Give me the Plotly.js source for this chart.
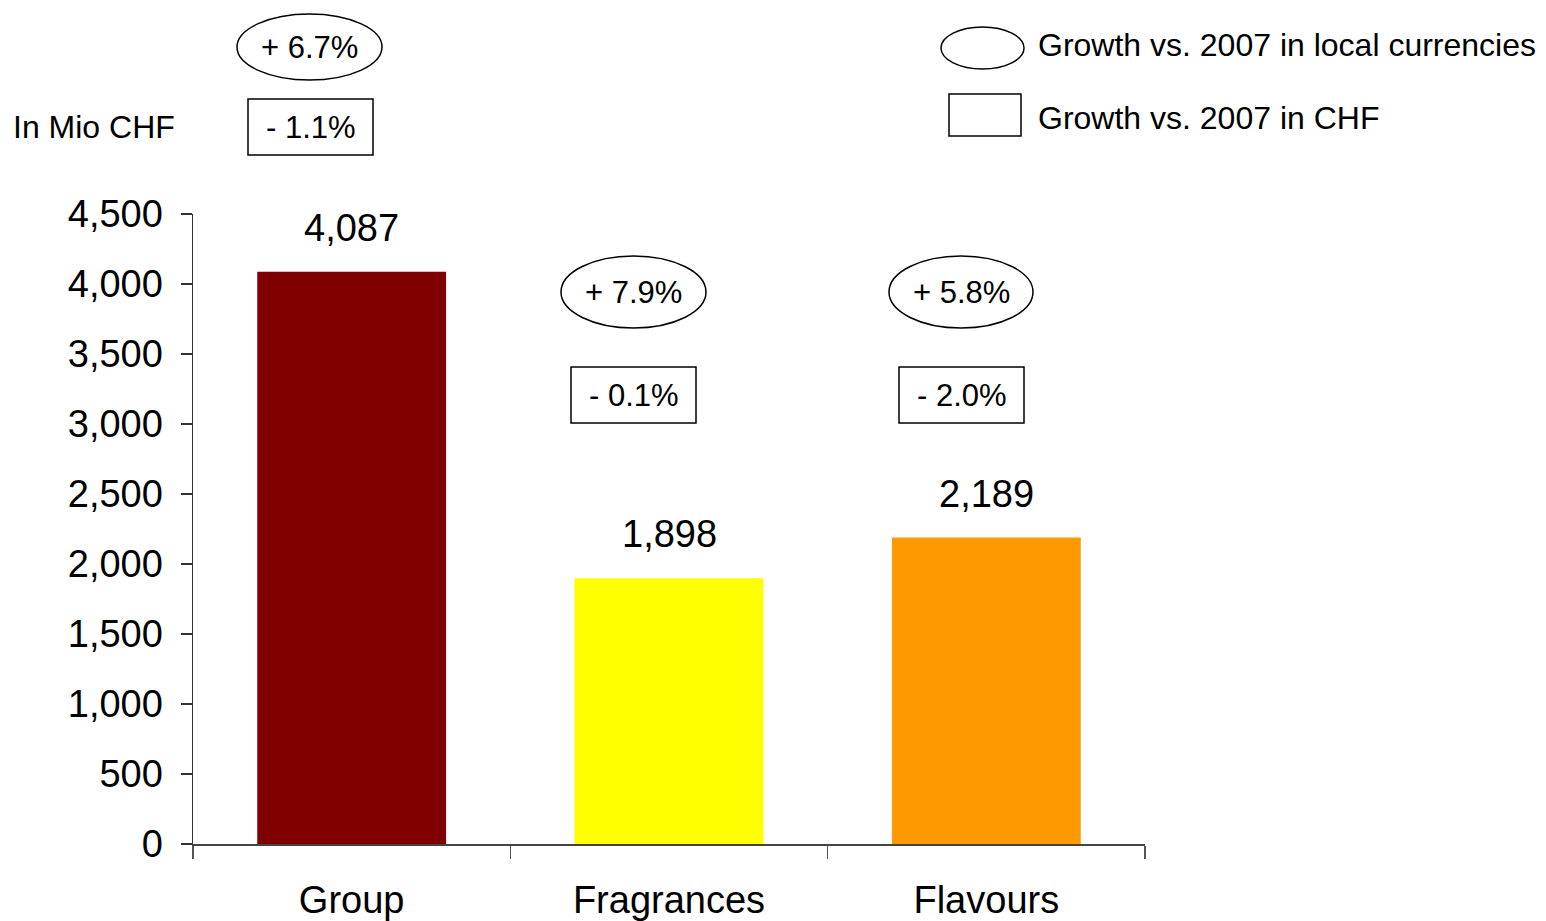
<!DOCTYPE html>
<html>
<head>
<meta charset="utf-8">
<script src="https://cdn.plot.ly/plotly-3.0.1.min.js"></script>
<style>
  html, body { margin: 0; padding: 0; background: #ffffff; }
  #chart { width: 1546px; height: 921px; }
</style>
</head>
<body>
<div id="chart"></div>
<script>
// ---- Data ----
const categories = ['Group', 'Fragrances', 'Flavours'];
const sales = [4087, 1898, 2189];
const salesLabels = ['4,087', '1,898', '2,189'];
const growthLocal = ['+ 6.7%', '+ 7.9%', '+ 5.8%'];
const growthCHF = ['- 1.1%', '- 0.1%', '- 2.0%'];
const barColors = ['#800000', '#FFFF00', '#FF9900'];
const unitLabel = 'In Mio CHF';
const legendLocal = 'Growth vs. 2007 in local currencies';
const legendCHF = 'Growth vs. 2007 in CHF';

// ---- Layout geometry (pixels) ----
const W = 1546, H = 921;
const L = 193, R = 1145, T = 214, B = 844;
const px = x => (x - L) / (R - L);
const py = y => (B - y) / (B - T);

const FONT = 'Liberation Sans, Arial, Helvetica, sans-serif';
const SMALL = 32;

// ellipse (local growth) and box (CHF growth) positions per category
const ellipseBoxes = [[237, 14, 382, 80], [561, 256, 706, 328], [889, 256, 1033, 328]];
const rectBoxes = [[248, 99, 373, 155], [571, 367, 696, 423], [899, 367, 1024, 423]];

const shapes = [];
const annotations = [];

function addBox(type, b, text) {
  shapes.push({
    type: type, xref: 'paper', yref: 'paper',
    x0: px(b[0]), x1: px(b[2]), y0: py(b[3]), y1: py(b[1]),
    line: {color: '#000000', width: 1.5}, fillcolor: 'rgba(0,0,0,0)'
  });
  if (text) {
    annotations.push({
      xref: 'paper', yref: 'paper',
      x: px((b[0] + b[2]) / 2), y: py((b[1] + b[3]) / 2),
      xanchor: 'center', yanchor: 'middle', showarrow: false,
      text: text, font: {family: FONT, size: 31, color: '#000000'}
    });
  }
}

for (let i = 0; i < categories.length; i++) {
  addBox('circle', ellipseBoxes[i], growthLocal[i]);
  addBox('rect', rectBoxes[i], growthCHF[i]);
  annotations.push({
    x: categories[i], y: sales[i], xref: 'x', yref: 'y',
    text: salesLabels[i], showarrow: false,
    xanchor: 'center', yanchor: 'bottom', yshift: 21,
    font: {family: FONT, size: 38, color: '#000000'}
  });
}

// legend
addBox('circle', [941, 27, 1024, 69], null);
addBox('rect', [949, 94, 1021, 136], null);
annotations.push({
  xref: 'paper', yref: 'paper', x: px(1036), y: py(45),
  xanchor: 'left', yanchor: 'middle', showarrow: false,
  text: legendLocal, font: {family: FONT, size: SMALL, color: '#000000'}
});
annotations.push({
  xref: 'paper', yref: 'paper', x: px(1036), y: py(118),
  xanchor: 'left', yanchor: 'middle', showarrow: false,
  text: legendCHF, font: {family: FONT, size: SMALL, color: '#000000'}
});
annotations.push({
  xref: 'paper', yref: 'paper', x: px(11), y: py(127),
  xanchor: 'left', yanchor: 'middle', showarrow: false,
  text: unitLabel, font: {family: FONT, size: SMALL, color: '#000000'}
});

const trace = {
  type: 'bar',
  x: categories,
  y: sales,
  marker: {color: barColors, line: {width: 0}},
  hoverinfo: 'skip',
  showlegend: false
};

const layout = {
  width: W, height: H,
  margin: {l: L, r: W - R, t: T, b: H - B, pad: 0},
  paper_bgcolor: '#ffffff',
  plot_bgcolor: '#ffffff',
  bargap: 0.405,
  showlegend: false,
  font: {family: FONT, color: '#000000'},
  xaxis: {
    type: 'category',
    showline: true, linecolor: '#444444', linewidth: 1.5,
    ticks: 'outside', tickson: 'boundaries', ticklen: 13, tickcolor: '#555555', tickwidth: 1.5,
    tickfont: {family: FONT, size: 38, color: '#000000'},
    ticklabelstandoff: 22,
    showgrid: false, zeroline: false, fixedrange: true
  },
  yaxis: {
    range: [0, 4500], dtick: 500, tick0: 0,
    tickformat: ',d',
    showline: true, linecolor: '#333333', linewidth: 1.5,
    ticks: 'outside', ticklen: 11, tickcolor: '#333333', tickwidth: 1.5,
    tickfont: {family: FONT, size: 38, color: '#000000'},
    ticklabelstandoff: 10,
    showgrid: false, zeroline: false, fixedrange: true
  },
  shapes: shapes,
  annotations: annotations
};

Plotly.newPlot('chart', [trace], layout, {displayModeBar: false, staticPlot: true});
</script>
</body>
</html>
